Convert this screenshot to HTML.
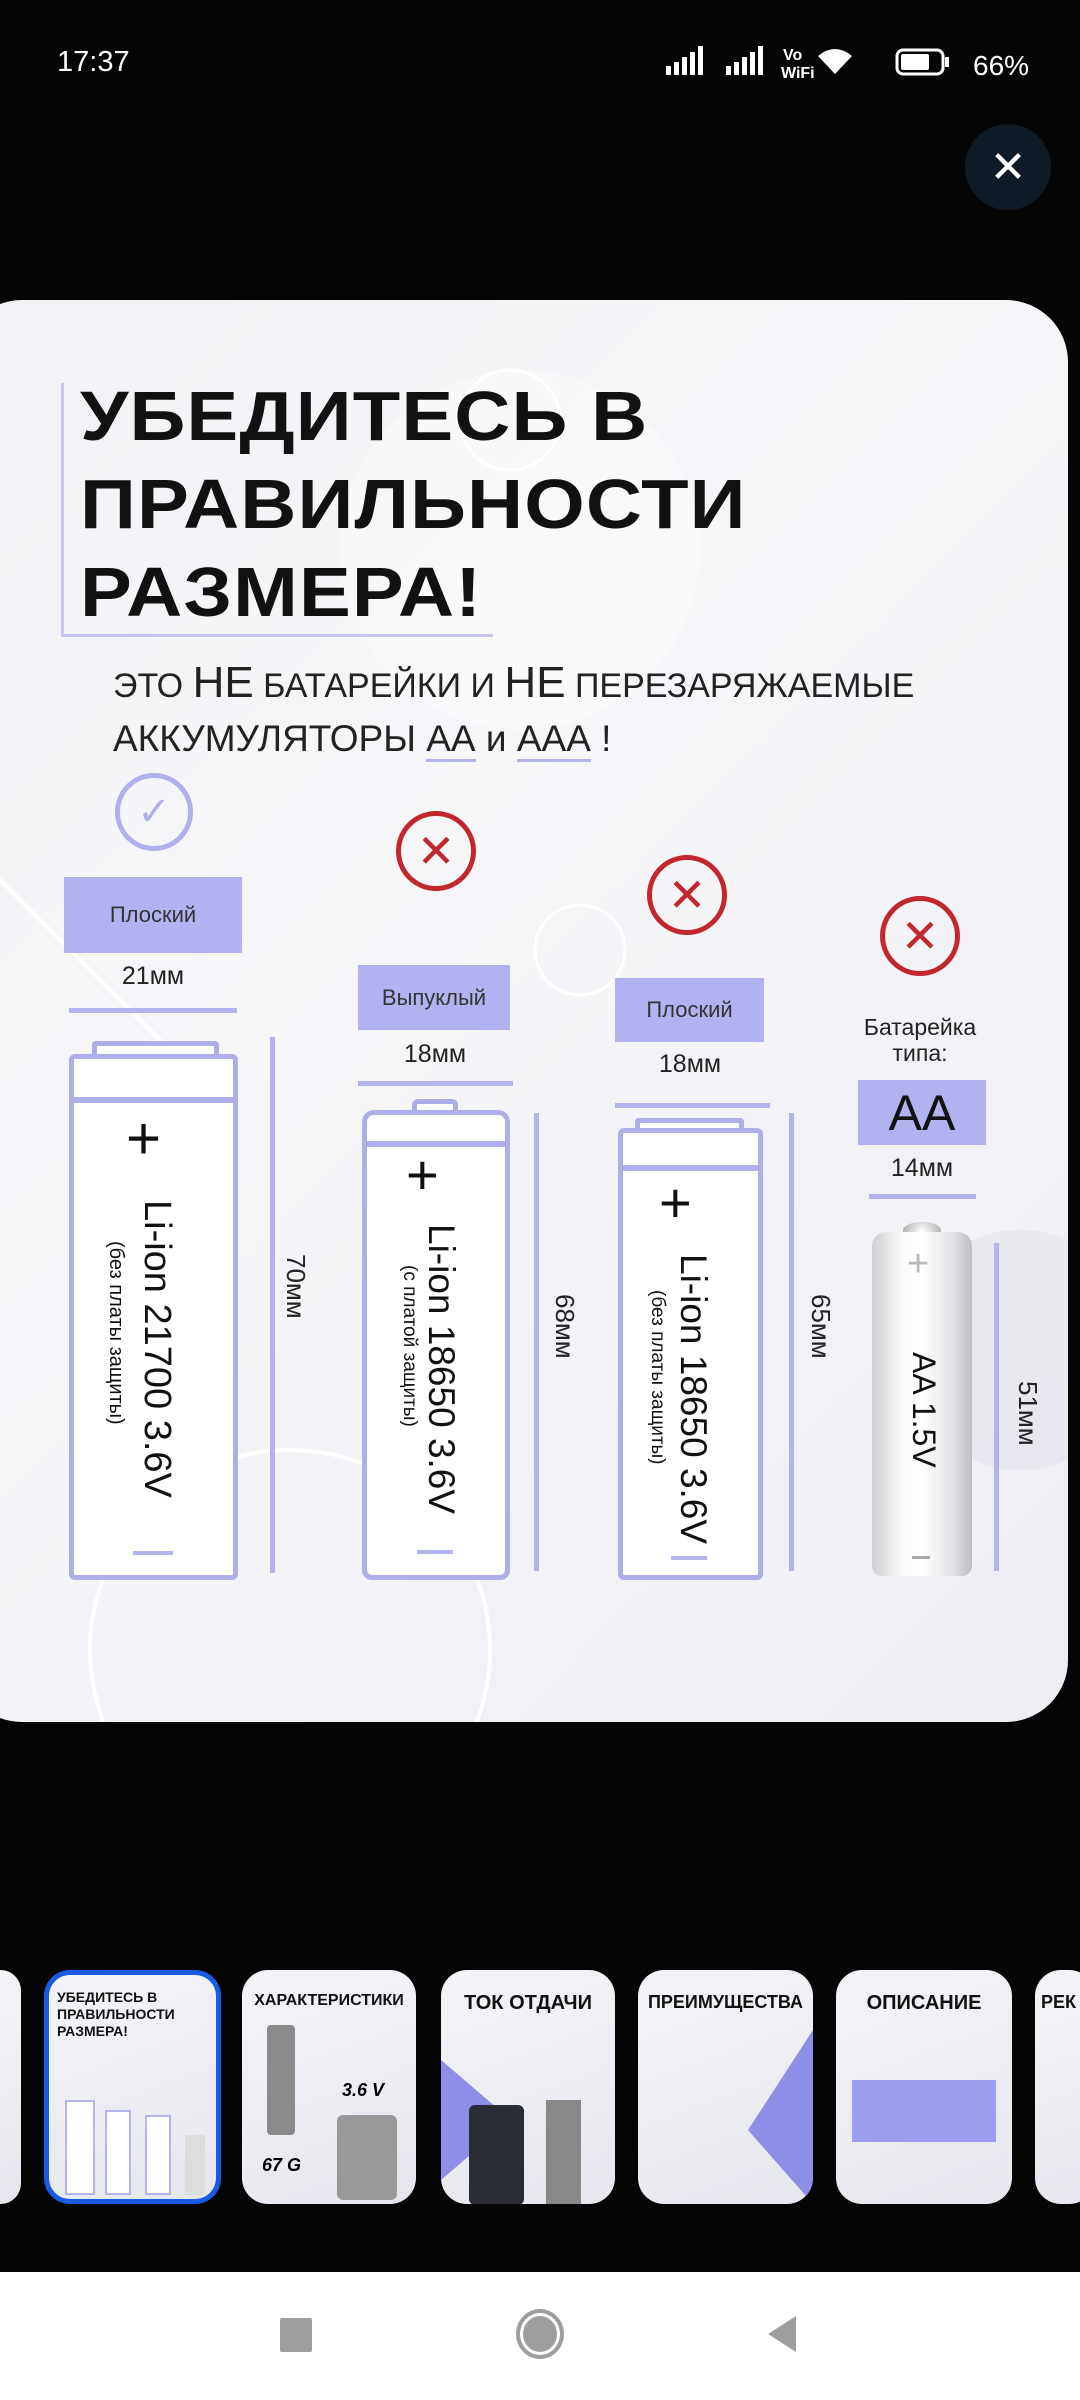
<!DOCTYPE html>
<html><head><meta charset="utf-8">
<style>
*{margin:0;padding:0;box-sizing:border-box}
body{width:1080px;height:2400px;background:#050505;position:relative;overflow:hidden;font-family:"Liberation Sans","DejaVu Sans",sans-serif}
.a{position:absolute}
.card{left:-40px;top:300px;width:1108px;height:1422px;border-radius:62px;background:linear-gradient(135deg,#f2f2f6 0%,#f7f7fa 40%,#ededf3 100%);overflow:hidden}
.lbl{background:#b2b2f0;color:#333;font-size:22px;display:flex;align-items:center;justify-content:center}
.dim{font-size:25px;color:#222;text-align:center}
.ul{height:5px;background:#b4b4ec}
.vl{width:5px;background:#b4b4ec}
.bat{border:5px solid #aeaee8;background:#fff}
.vt{writing-mode:vertical-rl;white-space:nowrap;color:#111}
.xc{width:80px;height:80px;border:5px solid #c1272d;border-radius:50%;color:#c1272d;font-size:46px;display:flex;align-items:center;justify-content:center;font-weight:300}
.th{top:1970px;height:234px;border-radius:26px;background:linear-gradient(160deg,#f4f4f8,#e6e6ee);overflow:hidden}
.tt{font-weight:bold;color:#111;font-size:19px;text-align:center;margin-top:22px}
</style></head><body>
<!-- status bar -->
<div class="a" style="left:57px;top:46px;color:#fff;font-size:29px">17:37</div>
<svg class="a" style="left:660px;top:40px" width="420" height="46">
 <g fill="#fff">
  <rect x="6" y="26" width="5" height="9"/><rect x="14" y="22" width="5" height="13"/><rect x="22" y="17" width="5" height="18"/><rect x="30" y="12" width="5" height="23"/><rect x="38" y="6" width="5" height="29"/>
  <rect x="66" y="26" width="5" height="9"/><rect x="74" y="22" width="5" height="13"/><rect x="82" y="17" width="5" height="18"/><rect x="90" y="12" width="5" height="23"/><rect x="98" y="6" width="5" height="29"/>
  <text x="123" y="20" font-size="16" font-weight="bold" font-family="Liberation Sans">Vo</text>
  <text x="121" y="38" font-size="16" font-weight="bold" font-family="Liberation Sans">WiFi</text>
  <path d="M175 34 L158 16 Q175 2 192 16 Z"/>
  <rect x="237" y="10" width="46" height="24" rx="6" fill="none" stroke="#fff" stroke-width="3"/>
  <rect x="241" y="14" width="28" height="16" rx="2"/><rect x="285" y="17" width="4" height="10"/>
  <text x="313" y="35" font-size="28" font-family="Liberation Sans">66%</text>
 </g>
</svg>
<!-- close -->
<div class="a" style="left:965px;top:124px;width:86px;height:86px;border-radius:50%;background:#0e1a26;color:#fff;font-size:44px;display:flex;align-items:center;justify-content:center">✕</div>

<div class="a card">
 <svg class="a" style="left:0;top:0" width="1108" height="1422">
  <circle cx="560" cy="250" r="180" fill="#fff" opacity=".35"/>
  <circle cx="550" cy="120" r="50" fill="none" stroke="#fff" stroke-width="3"/>
  <circle cx="620" cy="650" r="45" fill="none" stroke="#fff" stroke-width="3"/>
  <path d="M0 540 L240 780" stroke="#fff" stroke-width="4"/>
  <circle cx="330" cy="1350" r="200" fill="none" stroke="#fff" stroke-width="4"/>
  <circle cx="1060" cy="1050" r="120" fill="#e4e4ec" opacity=".7"/>
 </svg>
</div>

<!-- title -->
<div class="a" style="left:61px;top:383px;width:3px;height:253px;background:#c6c6ef"></div>
<div class="a" style="left:61px;top:634px;width:432px;height:3px;background:#c6c6ef"></div>
<div class="a" style="left:80px;top:372px;font-size:70px;font-weight:bold;line-height:88px;color:#111;letter-spacing:1px;transform:scaleX(1.11);transform-origin:0 0;white-space:nowrap">УБЕДИТЕСЬ В<br>ПРАВИЛЬНОСТИ<br>РАЗМЕРА!</div>

<div class="a" style="left:113px;top:660px;color:#222;white-space:nowrap;line-height:46px">
 <span style="font-size:34px">ЭТО </span><span style="font-size:44px">НЕ</span><span style="font-size:34px"> БАТАРЕЙКИ И </span><span style="font-size:44px">НЕ</span><span style="font-size:34px"> ПЕРЕЗАРЯЖАЕМЫЕ</span><br>
 <span style="font-size:37px">АККУМУЛЯТОРЫ <span style="border-bottom:3px solid #b4b4ec">АА</span> и <span style="border-bottom:3px solid #b4b4ec">ААА</span> !</span>
</div>

<!-- icons -->
<div class="a" style="left:115px;top:773px;width:78px;height:78px;border:5px solid #b0b0ee;border-radius:50%;color:#b0b0ee;font-size:40px;display:flex;align-items:center;justify-content:center">✓</div>
<div class="a xc" style="left:396px;top:811px">✕</div>
<div class="a xc" style="left:647px;top:855px">✕</div>
<div class="a xc" style="left:880px;top:896px">✕</div>

<!-- labels -->
<div class="a lbl" style="left:64px;top:877px;width:178px;height:76px">Плоский</div>
<div class="a lbl" style="left:358px;top:965px;width:152px;height:65px">Выпуклый</div>
<div class="a lbl" style="left:615px;top:978px;width:149px;height:64px">Плоский</div>
<div class="a" style="left:840px;top:1014px;width:160px;text-align:center;font-size:23px;line-height:26px;color:#222">Батарейка<br>типа:</div>
<div class="a lbl" style="left:858px;top:1080px;width:128px;height:65px;font-size:50px;color:#111">AA</div>

<div class="a dim" style="left:73px;top:962px;width:160px">21мм</div>
<div class="a ul" style="left:69px;top:1008px;width:168px"></div>
<div class="a dim" style="left:355px;top:1040px;width:160px">18мм</div>
<div class="a ul" style="left:358px;top:1081px;width:155px"></div>
<div class="a dim" style="left:610px;top:1050px;width:160px">18мм</div>
<div class="a ul" style="left:615px;top:1103px;width:155px"></div>
<div class="a dim" style="left:842px;top:1154px;width:160px">14мм</div>
<div class="a ul" style="left:869px;top:1194px;width:107px"></div>

<!-- battery 1 -->
<div class="a bat" style="left:92px;top:1041px;width:127px;height:20px;border-bottom:none;border-radius:4px 4px 0 0"></div>
<div class="a bat" style="left:69px;top:1054px;width:169px;height:48px;border-radius:6px 6px 0 0"></div>
<div class="a bat" style="left:69px;top:1098px;width:169px;height:482px;border-radius:0 0 6px 6px"></div>
<div class="a" style="left:126px;top:1104px;font-size:60px;color:#111">+</div>
<div class="a vt" style="left:135px;top:1200px;font-size:38px">Li-ion 21700 3.6V</div>
<div class="a vt" style="left:104px;top:1241px;font-size:20px">(без платы защиты)</div>
<div class="a" style="left:133px;top:1551px;width:40px;height:4px;background:#b4b4ec"></div>
<div class="a vl" style="left:270px;top:1037px;height:536px"></div>
<div class="a vt" style="left:280px;top:1254px;font-size:26px;color:#222">70мм</div>

<!-- battery 2 -->
<div class="a bat" style="left:412px;top:1099px;width:46px;height:15px;border-bottom:none;border-radius:6px 6px 0 0"></div>
<div class="a bat" style="left:362px;top:1110px;width:148px;height:36px;border-radius:12px 12px 0 0"></div>
<div class="a bat" style="left:362px;top:1142px;width:148px;height:438px;border-radius:0 0 10px 10px"></div>
<div class="a" style="left:406px;top:1142px;font-size:56px;color:#111">+</div>
<div class="a vt" style="left:420px;top:1224px;font-size:37px">Li-ion 18650 3.6V</div>
<div class="a vt" style="left:398px;top:1265px;font-size:19px">(с платой защиты)</div>
<div class="a" style="left:417px;top:1550px;width:36px;height:4px;background:#b4b4ec"></div>
<div class="a vl" style="left:534px;top:1113px;height:458px"></div>
<div class="a vt" style="left:549px;top:1294px;font-size:26px;color:#222">68мм</div>

<!-- battery 3 -->
<div class="a bat" style="left:635px;top:1118px;width:109px;height:15px;border-bottom:none;border-radius:4px 4px 0 0"></div>
<div class="a bat" style="left:618px;top:1128px;width:145px;height:42px;border-radius:6px 6px 0 0"></div>
<div class="a bat" style="left:618px;top:1166px;width:145px;height:414px;border-radius:0 0 6px 6px"></div>
<div class="a" style="left:659px;top:1170px;font-size:56px;color:#111">+</div>
<div class="a vt" style="left:672px;top:1254px;font-size:37px">Li-ion 18650 3.6V</div>
<div class="a vt" style="left:646px;top:1290px;font-size:19px">(без платы защиты)</div>
<div class="a" style="left:671px;top:1556px;width:36px;height:4px;background:#b4b4ec"></div>
<div class="a vl" style="left:789px;top:1113px;height:458px"></div>
<div class="a vt" style="left:805px;top:1294px;font-size:26px;color:#222">65мм</div>

<!-- AA battery -->
<div class="a" style="left:903px;top:1222px;width:38px;height:16px;border-radius:50% 50% 0 0;background:radial-gradient(circle at 50% 60%,#fff,#aaa)"></div>
<div class="a" style="left:872px;top:1232px;width:100px;height:344px;border-radius:14px 14px 10px 10px;background:linear-gradient(90deg,#cfcfd4 0%,#fafafa 30%,#fff 50%,#e2e2e6 80%,#bdbdc3 100%)"></div>
<div class="a" style="left:907px;top:1243px;font-size:38px;color:#b8b8be">+</div>
<div class="a vt" style="left:905px;top:1352px;font-size:32px">AA 1.5V</div>
<div class="a" style="left:912px;top:1556px;width:18px;height:3px;background:#aaa"></div>
<div class="a vl" style="left:994px;top:1243px;height:328px"></div>
<div class="a vt" style="left:1012px;top:1381px;font-size:26px;color:#222">51мм</div>

<!-- thumbnails -->
<div class="a th" style="left:-20px;width:41px"></div>
<div class="a th" style="left:44px;width:177px;border:5px solid #1a5be6">
 <div style="font-weight:bold;font-size:14px;line-height:17px;margin:14px 0 0 8px;color:#111">УБЕДИТЕСЬ В<br>ПРАВИЛЬНОСТИ<br>РАЗМЕРА!</div>
 <div style="position:absolute;left:16px;top:125px;width:30px;height:95px;border:2px solid #b4b4ec;background:#fff"></div>
 <div style="position:absolute;left:56px;top:135px;width:26px;height:85px;border:2px solid #b4b4ec;background:#fff"></div>
 <div style="position:absolute;left:96px;top:140px;width:26px;height:80px;border:2px solid #b4b4ec;background:#fff"></div>
 <div style="position:absolute;left:136px;top:160px;width:20px;height:60px;background:#ddd"></div>
</div>
<div class="a th" style="left:242px;width:174px"><div class="tt" style="font-size:16px">ХАРАКТЕРИСТИКИ</div>
 <div style="position:absolute;left:25px;top:55px;width:28px;height:110px;background:#8a8a8a;border-radius:4px"></div>
 <div style="position:absolute;left:95px;top:145px;width:60px;height:85px;background:#999;border-radius:6px"></div>
 <div style="position:absolute;left:20px;top:185px;font-weight:bold;font-style:italic;font-size:18px">67 G</div>
 <div style="position:absolute;left:100px;top:110px;font-weight:bold;font-style:italic;font-size:18px">3.6 V</div></div>
<div class="a th" style="left:441px;width:174px"><div class="tt" style="font-size:20px">ТОК ОТДАЧИ</div>
 <svg style="position:absolute;left:0;top:0" width="174" height="234"><path d="M0 90 L70 150 L0 210 Z" fill="#8e8ee6"/></svg>
 <div style="position:absolute;left:28px;top:135px;width:55px;height:100px;background:#2a2d33;border-radius:6px"></div>
 <div style="position:absolute;left:105px;top:130px;width:35px;height:104px;background:#888"></div></div>
<div class="a th" style="left:638px;width:175px"><div class="tt" style="font-size:18px">ПРЕИМУЩЕСТВА</div>
 <svg style="position:absolute;left:0;top:0" width="175" height="234"><path d="M175 60 L110 160 L175 234 Z" fill="#8e8ee6"/></svg></div>
<div class="a th" style="left:836px;width:176px"><div class="tt" style="font-size:20px">ОПИСАНИЕ</div>
 <div style="position:absolute;left:16px;top:110px;width:144px;height:62px;background:#9e9ef0"></div></div>
<div class="a th" style="left:1035px;width:60px"><div class="tt" style="font-size:18px;text-align:left;margin-left:6px">РЕК</div></div>

<!-- nav bar -->
<div class="a" style="left:0;top:2272px;width:1080px;height:128px;background:#fff"></div>
<div class="a" style="left:280px;top:2318px;width:32px;height:34px;background:#9e9e9e;border-radius:2px"></div>
<div class="a" style="left:516px;top:2309px;width:48px;height:50px;border:4px solid #9e9e9e;border-radius:50%;display:flex;align-items:center;justify-content:center"><div style="width:34px;height:36px;background:#9e9e9e;border-radius:50%"></div></div>
<svg class="a" style="left:764px;top:2314px" width="34" height="40"><path d="M32 2 L32 38 L4 20 Z" fill="#9e9e9e"/></svg>
</body></html>
